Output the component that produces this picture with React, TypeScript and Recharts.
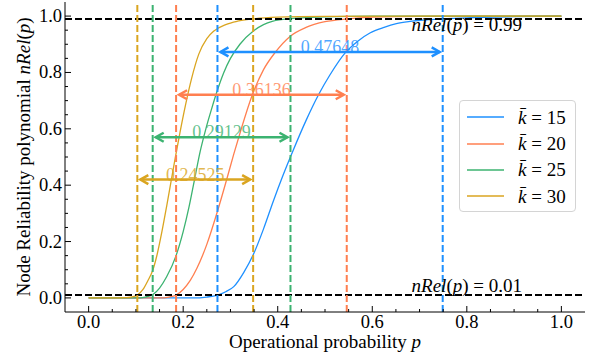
import React from "react";
import { ComposedChart, Line, XAxis, YAxis, ReferenceLine, ReferenceDot, Legend } from "recharts";

// nRel(p) vs operational probability, one curve per mean degree k̄.
// Values.
const FONT = "Liberation Serif, Times New Roman, serif";
const W = 593;
const H = 358;

const P_K15 = [0, 0.22, 0.25, 0.273, 0.29, 0.307, 0.328, 0.35, 0.37, 0.391, 0.41, 0.433, 0.46, 0.486, 0.51, 0.544, 0.57, 0.595, 0.625, 0.651, 0.68, 0.715, 0.749, 0.8, 0.9, 1.0];
const R_K15 = [0, 0, 0.003, 0.01, 0.022, 0.04, 0.09, 0.16, 0.245, 0.345, 0.43, 0.525, 0.63, 0.72, 0.79, 0.872, 0.912, 0.94, 0.96, 0.973, 0.981, 0.987, 0.99, 0.994, 0.998, 1.0];

const P_K20 = [0, 0.15, 0.17, 0.185, 0.2, 0.215, 0.229, 0.25, 0.273, 0.292, 0.307, 0.322, 0.345, 0.37, 0.395, 0.426, 0.46, 0.5, 0.546, 0.6, 0.7, 1.0];
const R_K20 = [0, 0, 0.003, 0.01, 0.03, 0.062, 0.105, 0.19, 0.31, 0.42, 0.51, 0.595, 0.715, 0.81, 0.872, 0.928, 0.96, 0.98, 0.99, 0.996, 0.999, 1.0];

const P_K25 = [0, 0.1, 0.12, 0.136, 0.15, 0.165, 0.185, 0.2, 0.212, 0.224, 0.236, 0.248, 0.26, 0.272, 0.286, 0.3, 0.32, 0.349, 0.37, 0.39, 0.427, 0.5, 0.6, 1.0];
const R_K25 = [0, 0, 0.003, 0.012, 0.035, 0.075, 0.15, 0.235, 0.32, 0.42, 0.52, 0.6, 0.67, 0.735, 0.8, 0.85, 0.9, 0.948, 0.97, 0.982, 0.991, 0.997, 1.0, 1.0];

const P_K30 = [0, 0.05, 0.08, 0.09, 0.103, 0.115, 0.125, 0.136, 0.145, 0.155, 0.165, 0.174, 0.183, 0.193, 0.205, 0.218, 0.233, 0.25, 0.265, 0.29, 0.315, 0.348, 0.4, 0.5, 0.7, 1.0];
const R_K30 = [0, 0, 0.001, 0.003, 0.01, 0.03, 0.06, 0.1, 0.155, 0.235, 0.325, 0.41, 0.495, 0.585, 0.685, 0.78, 0.865, 0.92, 0.947, 0.97, 0.982, 0.99, 0.996, 0.999, 1.0, 1.0];

const K_VALUES = [15, 20, 25, 30];
const COLORS = ["#1E90FF", "#FF7F50", "#3CB371", "#DAA520"];
const P_SERIES = [P_K15, P_K20, P_K25, P_K30];
const R_SERIES = [R_K15, R_K20, R_K25, R_K30];

// where each curve crosses nRel = 0.01 and 0.99, and the width of that window
const P_LOW = [0.2725, 0.185, 0.1355, 0.103];
const P_HIGH = [0.749, 0.546, 0.427, 0.348];
const WIDTH_LABELS = ["0.47648", "0.36136", "0.29129", "0.24525"];
const ARROW_Y = [0.873, 0.721, 0.57, 0.42];

const LEVELS = [0.01, 0.99];
const LEVEL_LABELS = ["0.01", "0.99"];
const LEVEL_TEXT_X = 0.8;

const MAJOR = [0, 0.2, 0.4, 0.6, 0.8, 1.0];
const MINOR = [0.05, 0.1, 0.15, 0.25, 0.3, 0.35, 0.45, 0.5, 0.55, 0.65, 0.7, 0.75, 0.85, 0.9, 0.95];
const ALL_TICKS = [...MAJOR, ...MINOR].sort((a, b) => a - b);
const DOMAIN: [number, number] = [-0.05, 1.05];

const series = K_VALUES.map((k, i) => ({
  k,
  color: COLORS[i],
  rows: P_SERIES[i].map((p, j) => ({ p, v: R_SERIES[i][j] })),
}));

const isMajor = (v: number) => MAJOR.some((m) => Math.abs(m - v) < 1e-9);
const serif = { fontFamily: FONT };

// ticks point inward, labels outside (bottom/left only)
function Tick({ x, y, payload, side }: any) {
  const len = isMajor(payload.value) ? 6 : 3;
  const label = payload.value.toFixed(1);
  if (side === "bottom")
    return (
      <g>
        <line x1={x} x2={x} y1={y} y2={y - len} stroke="#000" />
        {len === 6 && <text x={x} y={y + 16} textAnchor="middle" fontSize={18.5} fill="#000" style={serif}>{label}</text>}
      </g>
    );
  if (side === "top") return <line x1={x} x2={x} y1={y} y2={y + len} stroke="#000" />;
  if (side === "left")
    return (
      <g>
        <line x1={x} x2={x + len} y1={y} y2={y} stroke="#000" />
        {len === 6 && <text x={x - 3} y={y + 6} textAnchor="end" fontSize={18.5} fill="#000" style={serif}>{label}</text>}
      </g>
    );
  return <line x1={x} x2={x - len} y1={y} y2={y} stroke="#000" />;
}

function WidthArrow({ x1, x2, y1, color, label }: any) {
  const a = x1 + 3;
  const b = x2 - 3;
  const y = y1;
  return (
    <g>
      <text x={(x1 + x2) / 2} y={y + 1} textAnchor="middle" fontSize={18} fill={color} fillOpacity={0.8} style={serif}>{label}</text>
      <line x1={a} x2={b} y1={y} y2={y} stroke={color} strokeWidth={2.5} />
      <polyline points={`${a + 8},${y - 4.5} ${a},${y} ${a + 8},${y + 4.5}`} fill="none" stroke={color} strokeWidth={2.5} />
      <polyline points={`${b - 8},${y - 4.5} ${b},${y} ${b - 8},${y + 4.5}`} fill="none" stroke={color} strokeWidth={2.5} />
    </g>
  );
}

function LevelText({ cx, cy, value, below }: any) {
  return (
    <text x={cx} y={below ? cy + 12 : cy - 3} textAnchor="middle" fontSize={19} fill="#000" style={serif}>
      <tspan fontStyle="italic">nRel</tspan>(<tspan fontStyle="italic">p</tspan>) = {value}
    </text>
  );
}

const renderLegend = () => (
  <div style={{ width: 117, height: 112, boxSizing: "border-box", border: "1px solid #d4d4d4", borderRadius: 4, background: "rgba(255,255,255,0.85)", padding: "3px 0 0 7px", fontFamily: FONT }}>
    {series.map((s) => (
      <div key={s.k} style={{ display: "flex", alignItems: "center", height: 26.4 }}>
        <svg width={37} height={4}>
          <line x1={0} x2={37} y1={2} y2={2} stroke={s.color} strokeWidth={1.6} />
        </svg>
        <span style={{ marginLeft: 14, fontFamily: FONT, fontSize: 19, lineHeight: 1 }}>
          <i>{"k\u0304"}</i> = {s.k}
        </span>
      </div>
    ))}
  </div>
);

export default function App() {
  return (
    <div style={{ position: "absolute", left: 0, top: 0, width: W, height: H, background: "#fff", fontFamily: FONT }}>
      <ComposedChart width={W} height={H} margin={{ top: 2, right: 8, bottom: 0, left: 0 }} style={serif}>
        <XAxis dataKey="p" type="number" domain={DOMAIN} ticks={ALL_TICKS} interval={0} allowDataOverflow
          height={46} tickSize={0} tickMargin={0} tickLine={false} axisLine={{ stroke: "#000" }}
          tick={(p: any) => <Tick {...p} side="bottom" />}
          label={{
            content: ({ viewBox }: any) => (
              <text x={viewBox.x + viewBox.width / 2} y={viewBox.y + 36} textAnchor="middle" fontSize={19} fill="#000" style={serif}>
                Operational probability <tspan fontStyle="italic">p</tspan>
              </text>
            ),
          }} />
        <XAxis xAxisId="top" orientation="top" type="number" domain={DOMAIN} ticks={ALL_TICKS} interval={0} allowDataOverflow
          height={0} tickSize={0} tickMargin={0} tickLine={false} axisLine={{ stroke: "#000" }}
          tick={(p: any) => <Tick {...p} side="top" />} />
        <YAxis type="number" domain={DOMAIN} ticks={ALL_TICKS} interval={0} allowDataOverflow
          width={65} tickSize={0} tickMargin={0} tickLine={false} axisLine={{ stroke: "#000" }}
          tick={(p: any) => <Tick {...p} side="left" />}
          label={{
            content: ({ viewBox }: any) => {
              const cy = viewBox.y + viewBox.height / 2;
              return (
                <text x={30} y={cy} transform={`rotate(-90, 30, ${cy})`} textAnchor="middle" fontSize={19} fill="#000" style={serif}>
                  Node Reliability polynomial <tspan fontStyle="italic">nRel</tspan>(<tspan fontStyle="italic">p</tspan>)
                </text>
              );
            },
          }} />
        <YAxis yAxisId="right" orientation="right" type="number" domain={DOMAIN} ticks={ALL_TICKS} interval={0} allowDataOverflow
          width={0} tickSize={0} tickMargin={0} tickLine={false} axisLine={{ stroke: "#000" }}
          tick={(p: any) => <Tick {...p} side="right" />} />

        {series.map((s) => (
          <Line key={s.k} data={s.rows} dataKey="v" name={`k${s.k}`} type="monotone" stroke={s.color}
            strokeWidth={1.3} dot={false} activeDot={false} isAnimationActive={false} />
        ))}

        {LEVELS.map((l) => (
          <ReferenceLine key={`h${l}`} y={l} stroke="#000" strokeWidth={2} strokeDasharray="7 3" />
        ))}
        {series.map((s, i) => [
          <ReferenceLine key={`lo${s.k}`} x={P_LOW[i]} stroke={s.color} strokeWidth={2} strokeDasharray="7 3" />,
          <ReferenceLine key={`hi${s.k}`} x={P_HIGH[i]} stroke={s.color} strokeWidth={2} strokeDasharray="7 3" />,
        ])}
        {series.map((s, i) => (
          <ReferenceLine key={`arr${s.k}`} segment={[{ x: P_LOW[i], y: ARROW_Y[i] }, { x: P_HIGH[i], y: ARROW_Y[i] }]}
            shape={(p: any) => <WidthArrow {...p} color={s.color} label={WIDTH_LABELS[i]} />} />
        ))}
        {LEVELS.map((l, i) => (
          <ReferenceDot key={`t${l}`} x={LEVEL_TEXT_X} y={l} r={0}
            shape={(p: any) => <LevelText {...p} value={LEVEL_LABELS[i]} below={l > 0.5} />} />
        ))}

        <Legend layout="vertical" align="center" verticalAlign="middle" content={renderLegend}
          wrapperStyle={{ left: 459, top: 100, width: 117, height: 112 }} />
      </ComposedChart>
    </div>
  );
}
